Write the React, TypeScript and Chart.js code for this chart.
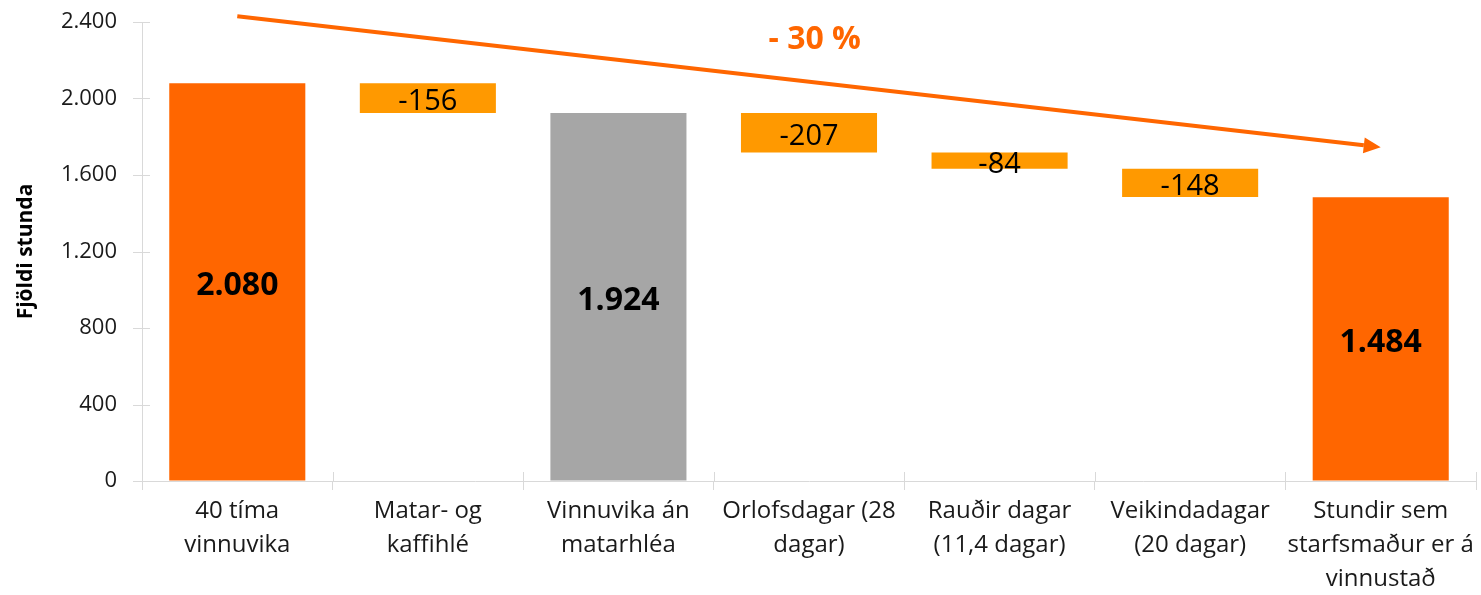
import React, { useEffect, useRef } from "react";
import { Chart, registerables } from "chart.js";

Chart.register(...registerables);

const categories: string[][] = [
  ["40 tíma", "vinnuvika"],
  ["Matar- og", "kaffihlé"],
  ["Vinnuvika án", "matarhléa"],
  ["Orlofsdagar (28", "dagar)"],
  ["Rauðir dagar", "(11,4 dagar)"],
  ["Veikindadagar", "(20 dagar)"],
  ["Stundir sem", "starfsmaður er á", "vinnustað"],
];
const stepValues = [2080, -156, 1924, -207, -84, -148, 1484];
const isTotal = [true, false, true, false, false, false, true];
const totalColors = ["#FF6600", "", "#A6A6A6", "", "", "", "#FF6600"];
const deltaColor = "#FF9900";
const yTickValues = [0, 400, 800, 1200, 1600, 2000, 2400];
const yAxisTitle = "Fjöldi stunda";
const trendText = "- 30 %";
const trendStart = { index: 0, value: 2430 };
const trendEnd = { index: 6, value: 1745 };
const trendLabel = { index: 3.03, value: 2316 };

const FONT = "'Open Sans', 'Noto Sans', sans-serif";
const AXIS_COLOR = "#D9D9D9";

const fmt = (v: number) => {
  const s = Math.abs(v).toString().replace(/\B(?=(\d{3})+(?!\d))/g, ".");
  return (v < 0 ? "-" : "") + s;
};

// build floating ranges
const ranges: [number, number][] = [];
{
  let running = 0;
  stepValues.forEach((v, i) => {
    if (isTotal[i]) {
      ranges.push([0, v]);
      running = v;
    } else {
      ranges.push([running + v, running]);
      running += v;
    }
  });
}
const barColors = stepValues.map((_, i) => (isTotal[i] ? totalColors[i] : deltaColor));

const labelPlugin = {
  id: "wfLabels",
  afterDatasetsDraw(chart: any) {
    const ctx = chart.ctx;
    const meta = chart.getDatasetMeta(0);
    ctx.save();
    ctx.textAlign = "center";
    ctx.textBaseline = "middle";
    ctx.fillStyle = "#000000";
    meta.data.forEach((el: any, i: number) => {
      const y = (el.y + el.base) / 2;
      if (isTotal[i]) {
        ctx.font = `bold 32px ${FONT}`;
      } else {
        ctx.font = `29px ${FONT}`;
      }
      ctx.fillText(fmt(stepValues[i]), el.x, y + 4);
    });
    ctx.restore();
  },
};

const decoPlugin = {
  id: "deco",
  afterDraw(chart: any) {
    const ctx = chart.ctx;
    const xs = chart.scales.x;
    const ys = chart.scales.y;
    const area = chart.chartArea;
    ctx.save();
    // tick marks crossing the axes
    ctx.strokeStyle = AXIS_COLOR;
    ctx.lineWidth = 1;
    ys.ticks.forEach((t: any) => {
      const y = Math.round(ys.getPixelForValue(t.value)) + 0.5;
      ctx.beginPath();
      ctx.moveTo(area.left - 9, y);
      ctx.lineTo(area.left + 8, y);
      ctx.stroke();
    });
    const n = categories.length;
    for (let i = 0; i <= n; i++) {
      const x = Math.round(xs.getPixelForValue(i - 0.5)) + 0.5;
      ctx.beginPath();
      ctx.moveTo(x, area.bottom);
      ctx.lineTo(x, area.bottom - 9);
      ctx.stroke();
    }
    // trend arrow
    const x1 = xs.getPixelForValue(trendStart.index);
    const y1 = ys.getPixelForValue(trendStart.value);
    const x2 = xs.getPixelForValue(trendEnd.index);
    const y2 = ys.getPixelForValue(trendEnd.value);
    const ang = Math.atan2(y2 - y1, x2 - x1);
    const headLen = 17;
    const headHalf = 8;
    const bx = x2 - headLen * Math.cos(ang);
    const by = y2 - headLen * Math.sin(ang);
    ctx.strokeStyle = "#FF6600";
    ctx.fillStyle = "#FF6600";
    ctx.lineWidth = 4;
    ctx.beginPath();
    ctx.moveTo(x1, y1);
    ctx.lineTo(bx, by);
    ctx.stroke();
    ctx.beginPath();
    ctx.moveTo(x2, y2);
    ctx.lineTo(bx + headHalf * Math.sin(ang), by - headHalf * Math.cos(ang));
    ctx.lineTo(bx - headHalf * Math.sin(ang), by + headHalf * Math.cos(ang));
    ctx.closePath();
    ctx.fill();
    // trend text
    ctx.font = `bold 32px ${FONT}`;
    ctx.textAlign = "center";
    ctx.textBaseline = "middle";
    ctx.fillText(trendText, xs.getPixelForValue(trendLabel.index), ys.getPixelForValue(trendLabel.value) + 2);
    ctx.restore();
  },
};

export default function App() {
  const ref = useRef<HTMLCanvasElement | null>(null);
  useEffect(() => {
    if (!ref.current) return;
    const chart = new Chart(ref.current, {
      type: "bar",
      data: {
        labels: categories,
        datasets: [
          {
            data: ranges as any,
            backgroundColor: barColors,
            borderWidth: 0,
            barPercentage: 0.714,
            categoryPercentage: 1,
          },
        ],
      },
      options: {
        animation: false,
        responsive: true,
        maintainAspectRatio: false,
        layout: { padding: { top: 22, right: 5, left: 0, bottom: 0 } },
        plugins: {
          legend: { display: false },
          tooltip: { enabled: false },
        },
        scales: {
          x: {
            grid: {
              display: true,
              offset: true,
              drawOnChartArea: false,
              tickLength: 9,
              color: AXIS_COLOR,
            },
            border: { color: AXIS_COLOR },
            ticks: {
              color: "#1A1A1A",
              font: { family: FONT, size: 24, lineHeight: 1.42 },
              padding: 4,
              maxRotation: 0,
              autoSkip: false,
            },
            afterFit: (s: any) => {
              s.height = 114;
            },
          },
          y: {
            min: 0,
            max: 2400,
            afterBuildTicks: (s: any) => {
              s.ticks = yTickValues.map((v) => ({ value: v }));
            },
            grid: {
              display: true,
              drawOnChartArea: false,
              tickLength: 25,
              tickColor: "rgba(0,0,0,0)",
              color: AXIS_COLOR,
            },
            border: { color: AXIS_COLOR },
            ticks: {
              color: "#1A1A1A",
              font: { family: FONT, size: 22 },
              padding: 0,
              callback: (v: any) => fmt(Number(v)),
            },
            title: {
              display: true,
              text: yAxisTitle,
              color: "#000000",
              font: { family: FONT, size: 21, weight: "bold" },
              padding: { top: 13, bottom: 0 },
            },
            afterFit: (s: any) => {
              s.width = 142;
            },
          },
        },
      },
      plugins: [labelPlugin, decoPlugin],
    });
    return () => chart.destroy();
  }, []);
  return (
    <div style={{ position: "absolute", left: 0, top: 0, width: 1481, height: 595, background: "#fff" }}>
      <canvas ref={ref} />
    </div>
  );
}
